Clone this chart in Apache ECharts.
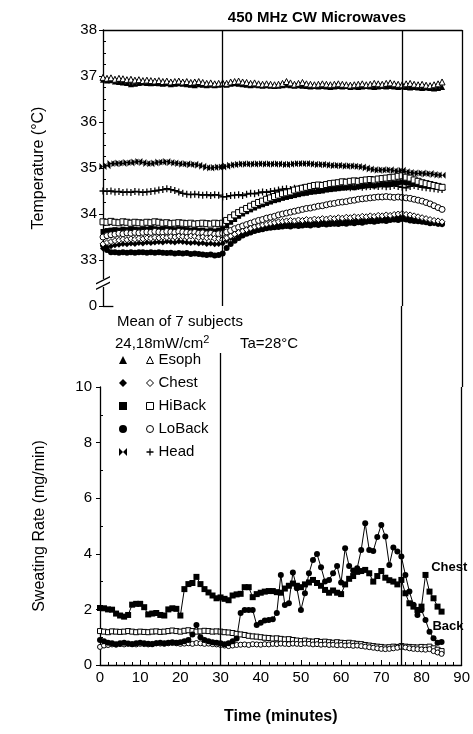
<!DOCTYPE html>
<html>
<head>
<meta charset="utf-8">
<script src="https://cdn.jsdelivr.net/npm/echarts@6/dist/echarts.min.js"></script>
<style>
  html, body { margin: 0; padding: 0; background: #fff; }
  #chart { width: 473px; height: 734px; }
</style>
</head>
<body>
<div id="chart"></div>
<script>
// Sampling times (minutes)
const minutes = [
  0, 1, 2, 3, 4, 5, 6, 7, 8, 9,
  10, 11, 12, 13, 14, 15, 16, 17, 18, 19,
  20, 21, 22, 23, 24, 25, 26, 27, 28, 29,
  30, 31, 32, 33, 34, 35, 36, 37, 38, 39,
  40, 41, 42, 43, 44, 45, 46, 47, 48, 49,
  50, 51, 52, 53, 54, 55, 56, 57, 58, 59,
  60, 61, 62, 63, 64, 65, 66, 67, 68, 69,
  70, 71, 72, 73, 74, 75, 76, 77, 78, 79,
  80, 81, 82, 83, 84, 85
];

// Temperatures (°C), filled = 24 mW/cm2, open = 18 mW/cm2
const esophOpen = [
  36.97, 36.95, 36.96, 36.93, 36.95, 36.94, 36.92, 36.93, 36.91, 36.92,
  36.90, 36.91, 36.90, 36.89, 36.90, 36.88, 36.89, 36.87, 36.88, 36.89,
  36.87, 36.88, 36.86, 36.87, 36.88, 36.86, 36.84, 36.85, 36.83, 36.84,
  36.85, 36.84, 36.87, 36.88, 36.89, 36.87, 36.86, 36.84, 36.85, 36.83,
  36.82, 36.83, 36.82, 36.81, 36.82, 36.84, 36.88, 36.85, 36.82, 36.84,
  36.86, 36.83, 36.82, 36.81, 36.82, 36.83, 36.82, 36.81, 36.82, 36.83,
  36.82, 36.81, 36.80, 36.81, 36.82, 36.83, 36.81, 36.82, 36.84, 36.83,
  36.82, 36.84, 36.85, 36.83, 36.82, 36.81, 36.83, 36.84, 36.82, 36.81,
  36.82, 36.80, 36.79, 36.81, 36.83, 36.87
];
const esophFilled = [
  36.92, 36.90, 36.91, 36.88, 36.87, 36.86, 36.85, 36.82, 36.83, 36.85,
  36.86, 36.85, 36.84, 36.85, 36.84, 36.83, 36.84, 36.82, 36.83, 36.84,
  36.83, 36.82, 36.81, 36.80, 36.82, 36.81, 36.80, 36.81, 36.80, 36.81,
  36.82, 36.81, 36.83, 36.84, 36.83, 36.82, 36.81, 36.80, 36.81, 36.80,
  36.79, 36.80, 36.79, 36.78, 36.79, 36.80, 36.81, 36.80, 36.79, 36.80,
  36.79, 36.78, 36.77, 36.78, 36.77, 36.78, 36.77, 36.76, 36.77, 36.78,
  36.77, 36.78, 36.76, 36.77, 36.76, 36.77, 36.78, 36.77, 36.76, 36.77,
  36.78, 36.77, 36.78, 36.77, 36.76, 36.77, 36.76, 36.75, 36.76, 36.75,
  36.74, 36.75, 36.74, 36.73, 36.74, 36.76
];
const headFilled = [
  35.03, 35.05, 35.10, 35.09, 35.11, 35.10, 35.12, 35.11, 35.13, 35.14,
  35.12, 35.10, 35.09, 35.11, 35.13, 35.12, 35.14, 35.12, 35.11, 35.10,
  35.08, 35.09, 35.07, 35.08, 35.06, 35.04, 35.01, 35.00, 35.01, 35.02,
  35.02, 35.04, 35.06, 35.07, 35.08, 35.09, 35.08, 35.09, 35.08, 35.09,
  35.09, 35.08, 35.09, 35.08, 35.09, 35.08, 35.07, 35.08, 35.09, 35.10,
  35.09, 35.10, 35.09, 35.08, 35.07, 35.08, 35.07, 35.06, 35.05, 35.06,
  35.05, 35.04, 35.05, 35.04, 35.03, 35.02, 35.00, 34.98, 34.96, 34.95,
  34.96, 34.95, 34.96, 34.94, 34.93, 34.95, 34.92, 34.90, 34.89, 34.88,
  34.89, 34.87, 34.88, 34.86, 34.85, 34.84
];
const headOpen = [
  34.50, 34.49, 34.50, 34.48, 34.49, 34.47, 34.48, 34.47, 34.49, 34.48,
  34.47, 34.48, 34.49, 34.50, 34.52, 34.53, 34.55, 34.53, 34.51, 34.48,
  34.45, 34.43, 34.42, 34.43, 34.42, 34.41, 34.42, 34.40, 34.42, 34.41,
  34.37, 34.38, 34.40, 34.41, 34.42, 34.40, 34.43, 34.45, 34.44, 34.46,
  34.48, 34.47, 34.49, 34.50, 34.52, 34.54, 34.55, 34.53, 34.56, 34.55,
  34.57, 34.56, 34.58, 34.57, 34.58, 34.60, 34.59, 34.58, 34.60, 34.59,
  34.60, 34.58, 34.57, 34.59, 34.60, 34.58, 34.59, 34.60, 34.61, 34.60,
  34.61, 34.59, 34.60, 34.62, 34.60, 34.58, 34.57, 34.60, 34.62, 34.60,
  34.58, 34.57, 34.56, 34.55, 34.54, 34.53
];
const hiBackOpen = [
  33.83, 33.82, 33.84, 33.82, 33.81, 33.83, 33.82, 33.80, 33.82, 33.81,
  33.80, 33.82, 33.81, 33.83, 33.82, 33.80, 33.81, 33.79, 33.80, 33.81,
  33.80, 33.79, 33.80, 33.78, 33.79, 33.80, 33.79, 33.78, 33.80, 33.79,
  33.80, 33.86, 33.92, 33.98, 34.03, 34.08, 34.12, 34.17, 34.21, 34.25,
  34.28, 34.32, 34.35, 34.38, 34.41, 34.44, 34.46, 34.48, 34.52, 34.54,
  34.56, 34.58, 34.60, 34.62, 34.63, 34.62, 34.64, 34.66, 34.67, 34.68,
  34.70, 34.69, 34.71, 34.72, 34.71, 34.73, 34.74, 34.75, 34.74, 34.76,
  34.77, 34.78, 34.79, 34.80, 34.82, 34.83, 34.80, 34.78, 34.74, 34.71,
  34.68, 34.66, 34.64, 34.62, 34.60, 34.58
];
const hiBackFilled = [
  33.62, 33.64, 33.65, 33.66, 33.65, 33.67, 33.66, 33.68, 33.67, 33.66,
  33.68, 33.67, 33.69, 33.68, 33.67, 33.69, 33.68, 33.67, 33.66, 33.68,
  33.67, 33.66, 33.65, 33.66, 33.64, 33.65, 33.63, 33.64, 33.63, 33.65,
  33.68, 33.75, 33.82, 33.88, 33.95, 34.00, 34.05, 34.09, 34.13, 34.17,
  34.20, 34.23, 34.26, 34.29, 34.31, 34.34, 34.36, 34.38, 34.40, 34.42,
  34.44, 34.45, 34.47, 34.48, 34.49, 34.50, 34.52, 34.53, 34.54, 34.55,
  34.56, 34.57, 34.58, 34.57, 34.59, 34.60, 34.61, 34.62, 34.61, 34.63,
  34.64, 34.65, 34.66, 34.67, 34.68, 34.69, 34.68, 34.67, 34.66, 34.64,
  34.63, 34.62, 34.61, 34.60, 34.59, 34.58
];
const loBackOpen = [
  33.50, 33.53, 33.55, 33.56, 33.58, 33.57, 33.59, 33.58, 33.60, 33.59,
  33.60, 33.61, 33.60, 33.62, 33.61, 33.60, 33.62, 33.61, 33.60, 33.62,
  33.61, 33.60, 33.59, 33.60, 33.58, 33.59, 33.57, 33.58, 33.56, 33.57,
  33.58, 33.61, 33.64, 33.68, 33.71, 33.74, 33.77, 33.80, 33.83, 33.86,
  33.88, 33.91, 33.93, 33.95, 33.98, 34.00, 34.02, 34.04, 34.06, 34.08,
  34.10, 34.12, 34.13, 34.15, 34.17, 34.18, 34.20, 34.22, 34.23, 34.25,
  34.26, 34.27, 34.29, 34.30, 34.32, 34.33, 34.34, 34.35, 34.36, 34.37,
  34.37, 34.38, 34.37, 34.36, 34.37, 34.36, 34.35, 34.34, 34.32, 34.30,
  34.28, 34.25, 34.22, 34.18, 34.14, 34.10
];
const chestOpen = [
  33.35, 33.38, 33.40, 33.42, 33.43, 33.45, 33.44, 33.46, 33.45, 33.47,
  33.46, 33.48, 33.47, 33.49, 33.48, 33.50, 33.49, 33.51, 33.50, 33.52,
  33.51, 33.50, 33.52, 33.51, 33.49, 33.50, 33.48, 33.49, 33.47, 33.46,
  33.45, 33.48, 33.52, 33.56, 33.60, 33.63, 33.66, 33.69, 33.72, 33.74,
  33.76, 33.78, 33.80, 33.81, 33.83, 33.84, 33.85, 33.86, 33.85, 33.87,
  33.86, 33.88, 33.87, 33.89, 33.88, 33.90, 33.89, 33.91, 33.90, 33.92,
  33.91, 33.93, 33.92, 33.94, 33.93, 33.95, 33.94, 33.96, 33.95, 33.97,
  33.96, 33.98, 33.97, 33.99, 34.00, 34.01, 33.99, 33.98, 33.96, 33.94,
  33.92, 33.90, 33.88, 33.86, 33.85, 33.83
];
const chestFilled = [
  33.25, 33.28, 33.30, 33.32, 33.33, 33.35, 33.34, 33.36, 33.35, 33.37,
  33.36, 33.38, 33.37, 33.38, 33.39, 33.38, 33.40, 33.39, 33.38, 33.40,
  33.39, 33.38, 33.37, 33.38, 33.36, 33.37, 33.35, 33.36, 33.34, 33.35,
  33.36, 33.42, 33.48, 33.53, 33.58, 33.62, 33.65, 33.68, 33.70, 33.72,
  33.73, 33.74, 33.75, 33.76, 33.77, 33.76, 33.78, 33.77, 33.79, 33.78,
  33.80, 33.79, 33.81, 33.80, 33.82, 33.81, 33.83, 33.82, 33.84, 33.83,
  33.85, 33.84, 33.86, 33.85, 33.87, 33.86, 33.88, 33.87, 33.89, 33.90,
  33.91, 33.92, 33.93, 33.92, 33.94, 33.95, 33.93, 33.91, 33.89, 33.87,
  33.85, 33.83, 33.81, 33.80, 33.78, 33.77
];
const loBackFilled = [
  33.32, 33.22, 33.17, 33.17, 33.16, 33.17, 33.16, 33.17, 33.16, 33.17,
  33.17, 33.16, 33.17, 33.16, 33.17, 33.16, 33.15, 33.16, 33.14, 33.15,
  33.14, 33.15, 33.13, 33.14, 33.13, 33.12, 33.11, 33.12, 33.10, 33.11,
  33.14, 33.26, 33.35, 33.42, 33.48, 33.53, 33.57, 33.60, 33.63, 33.65,
  33.67, 33.69, 33.70, 33.71, 33.72, 33.73, 33.74, 33.73, 33.75, 33.74,
  33.75, 33.76, 33.75, 33.77, 33.76, 33.78, 33.77, 33.78, 33.79, 33.78,
  33.80, 33.79, 33.81, 33.80, 33.82, 33.81, 33.83, 33.84, 33.83, 33.85,
  33.86, 33.85, 33.87, 33.88, 33.87, 33.89, 33.88, 33.86, 33.85, 33.84,
  33.83, 33.82, 33.80, 33.81, 33.79, 33.78
];

// Sweating rate (mg/min)
const sweatChestFilled = [
  2.05, 2.04, 2.00, 1.99, 1.85, 1.78, 1.74, 1.80, 2.17, 2.20,
  2.20, 2.08, 1.82, 1.85, 1.87, 1.80, 1.78, 2.00, 2.04, 2.02,
  1.78, 2.73, 2.91, 2.95, 3.17, 2.91, 2.73, 2.61, 2.50, 2.40,
  2.43, 2.38, 2.33, 2.50, 2.54, 2.56, 2.80, 2.80, 2.44, 2.55,
  2.60, 2.64, 2.66, 2.66, 2.62, 2.60, 2.75, 2.85, 2.93, 2.85,
  2.80, 2.90, 2.97, 3.06, 2.95, 2.85, 2.70, 2.60, 2.68, 2.60,
  2.55, 2.90, 3.10, 3.20, 3.35, 3.38, 3.42, 3.30, 3.00, 3.20,
  3.38, 3.14, 3.05, 3.00, 2.90, 3.06, 2.58, 2.22, 2.10, 1.98,
  2.10, 3.24, 2.64, 2.40, 2.10, 1.92
];
const sweatBackFilled = [
  0.90, 0.85, 0.80, 0.78, 0.75, 0.78, 0.80, 0.77, 0.75, 0.78,
  0.80, 0.78, 0.76, 0.75, 0.78, 0.80, 0.78, 0.80, 0.82, 0.80,
  0.82, 0.85, 0.90, 1.10, 1.44, 1.00, 0.90, 0.85, 0.82, 0.80,
  0.78, 0.75, 0.78, 0.85, 0.95, 1.87, 1.98, 1.98, 1.98, 1.44,
  1.52, 1.60, 1.62, 1.65, 1.87, 3.24, 2.16, 2.22, 3.33, 2.76,
  1.98, 2.58, 3.30, 3.78, 3.99, 3.52, 3.00, 3.06, 3.30, 3.56,
  2.97, 4.20, 3.56, 3.40, 3.48, 4.14, 5.10, 4.14, 4.10, 4.60,
  5.04, 4.62, 3.60, 4.23, 4.08, 3.90, 3.24, 2.64, 2.17, 1.80,
  1.98, 1.62, 1.20, 0.96, 0.80, 0.83
];
const sweatSquareOpen = [
  1.22, 1.20, 1.18, 1.21, 1.20, 1.19, 1.20, 1.22, 1.20, 1.18,
  1.20, 1.19, 1.18, 1.20, 1.21, 1.19, 1.20, 1.22, 1.24, 1.22,
  1.20, 1.23, 1.25, 1.22, 1.20, 1.21, 1.23, 1.22, 1.20, 1.21,
  1.20, 1.18, 1.17, 1.15, 1.12, 1.10, 1.08, 1.05, 1.03, 1.02,
  1.00, 0.98, 0.97, 0.95, 0.96, 0.94, 0.92, 0.93, 0.90, 0.88,
  0.86, 0.88, 0.85, 0.84, 0.86, 0.83, 0.84, 0.82, 0.80, 0.82,
  0.80, 0.79, 0.80, 0.78, 0.76, 0.75, 0.72, 0.70, 0.68, 0.66,
  0.65, 0.63, 0.64, 0.66, 0.65, 0.68, 0.66, 0.65, 0.64, 0.63,
  0.65, 0.64, 0.66, 0.60, 0.55, 0.50
];
const sweatCircleOpen = [
  0.65, 0.70, 0.72, 0.74, 0.73, 0.75, 0.74, 0.76, 0.75, 0.74,
  0.76, 0.75, 0.74, 0.76, 0.78, 0.77, 0.76, 0.78, 0.79, 0.78,
  0.76, 0.77, 0.78, 0.76, 0.79, 0.78, 0.76, 0.77, 0.75, 0.74,
  0.72, 0.70, 0.68, 0.70, 0.72, 0.73, 0.74, 0.72, 0.75, 0.74,
  0.73, 0.75, 0.74, 0.76, 0.75, 0.77, 0.76, 0.75, 0.77, 0.76,
  0.75, 0.77, 0.76, 0.74, 0.75, 0.73, 0.74, 0.72, 0.73, 0.71,
  0.72, 0.70, 0.71, 0.69, 0.70, 0.68, 0.66, 0.64, 0.62, 0.60,
  0.58, 0.57, 0.58, 0.60, 0.62, 0.65, 0.63, 0.60, 0.58, 0.57,
  0.56, 0.55, 0.57, 0.50, 0.45, 0.40
];

// Axis tick labels
const tempTickLabels = ['0', '33', '34', '35', '36', '37', '38'];
const timeTickLabels = ['0', '10', '20', '30', '40', '50', '60', '70', '80', '90'];
const sweatTickLabels = ['0', '2', '4', '6', '8', '10'];
// Exposure on / off markers (minutes)
const phaseTimes = [30, 75];

const FONT = '"Liberation Sans", Arial, Helvetica, sans-serif';
const INK = '#000';

const SYM = {
  tri: 'triangle',
  dia: 'diamond',
  sq: 'rect',
  circ: 'circle',
  bowtie: 'path://M0,0L5,5L0,10Z M10,0L10,10L5,5Z',
  plus: 'path://M4.1,0H5.9V10H4.1Z M0,4.1H10V5.9H0Z',
  slashes: 'path://M0,7L14,0L14,1.6L0,8.6Z M0,12.4L14,5.4L14,7L0,14Z'
};

const pairs = vals => minutes.map((t, i) => [t, vals[i]]);

function dataSeries(name, vals, symbol, size, style, grid) {
  const itemStyle = style === 'open'
    ? { color: '#fff', borderColor: INK, borderWidth: 1 }
    : { color: INK, borderWidth: 0 };
  return {
    name, type: 'line',
    xAxisIndex: grid === 0 ? 0 : 1,
    yAxisIndex: grid === 0 ? 0 : 2,
    data: pairs(vals),
    symbol, symbolSize: size, showSymbol: true, showAllSymbol: true,
    lineStyle: { color: INK, width: 1 },
    itemStyle,
    silent: true, animation: false, clip: false
  };
}

const lineMark = vals => ({
  silent: true, symbol: ['none', 'none'], animation: false,
  label: { show: false },
  lineStyle: { color: INK, width: 1.3, type: 'solid' },
  emphasis: { disabled: true },
  data: vals.map(v => ({ xAxis: v }))
});

const series = [
  // temperature panel (filled first, open drawn above)
  dataSeries('Esoph 24', esophFilled, SYM.tri, 6, 'filled', 0),
  dataSeries('Head 24', headFilled, SYM.bowtie, 7, 'filled', 0),
  dataSeries('HiBack 24', hiBackFilled, SYM.sq, 5, 'filled', 0),
  dataSeries('LoBack 24', loBackFilled, SYM.circ, 6, 'filled', 0),
  dataSeries('Chest 24', chestFilled, SYM.dia, 6, 'filled', 0),
  dataSeries('Esoph 18', esophOpen, SYM.tri, 6, 'open', 0),
  dataSeries('Head 18', headOpen, SYM.plus, 7, 'plus', 0),
  dataSeries('HiBack 18', hiBackOpen, SYM.sq, 6, 'open', 0),
  dataSeries('LoBack 18', loBackOpen, SYM.circ, 6, 'open', 0),
  dataSeries('Chest 18', chestOpen, SYM.dia, 6, 'open', 0),
  // sweating panel
  dataSeries('Sweat sq open', sweatSquareOpen, SYM.sq, 5, 'open', 1),
  dataSeries('Sweat circ open', sweatCircleOpen, SYM.circ, 5, 'open', 1),
  dataSeries('Sweat back', sweatBackFilled, SYM.circ, 6, 'filled', 1),
  dataSeries('Sweat chest', sweatChestFilled, SYM.sq, 6, 'filled', 1)
];

// frame / phase lines for each panel
series[0].markLine = lineMark([...phaseTimes, 90]);
series[0].markLine.data.push([{ coord: [0, 32] }, { coord: [2.6, 32] }]);
// axis break mark between 0 and 33 on the temperature axis
series[0].markPoint = {
  silent: true, animation: false, label: { show: false },
  data: [
    { coord: [0, 32.5], symbol: 'rect', symbolSize: [6, 8], itemStyle: { color: '#fff' } },
    { coord: [0, 32.5], symbol: SYM.slashes, symbolSize: [14, 14], itemStyle: { color: INK } }
  ]
};
series[10].markLine = lineMark([...phaseTimes, 90]);
// curve labels on the sweating panel
const curveLabel = { show: true, formatter: '{b}', color: INK, fontFamily: FONT, fontWeight: 'bold', fontSize: 13 };
series[13].markPoint = {
  silent: true, symbol: 'circle', symbolSize: 0, animation: false,
  label: curveLabel,
  data: [{ name: 'Chest', coord: [86.9, 3.5] }]
};
series[12].markPoint = {
  silent: true, symbol: 'circle', symbolSize: 0, animation: false,
  label: curveLabel,
  data: [{ name: 'Back', coord: [86.6, 1.38] }]
};
// connectors crossing the space between panels
series.push({
  type: 'line', xAxisIndex: 2, yAxisIndex: 4, data: [], silent: true,
  markLine: lineMark([75, 90])
});
series.push({
  type: 'line', xAxisIndex: 3, yAxisIndex: 5, data: [], silent: true,
  markLine: lineMark([...phaseTimes, 90])
});

const labelStyle = { color: INK, fontFamily: FONT, fontSize: 15 };
const hiddenX = grid => ({ type: 'value', gridIndex: grid, min: 0, max: 90, show: false });
const hiddenY = grid => ({ type: 'value', gridIndex: grid, min: 0, max: 1, show: false });

const minorTempTicks = [];
for (let v = 33; v < 38; v += 0.25) if (v % 1 !== 0) minorTempTicks.push(v);
const minorSweatTicks = [1, 3, 5, 7, 9];

const legendRows = ['Esoph', 'Chest', 'HiBack', 'LoBack', 'Head'];
const filledIcons = [SYM.tri, SYM.dia, SYM.sq, SYM.circ, SYM.bowtie];
const openIcons = [SYM.tri, SYM.dia, SYM.sq, SYM.circ, SYM.plus];

const option = {
  backgroundColor: '#fff',
  animation: false,
  title: {
    text: '450 MHz CW Microwaves',
    left: 312, top: 5, textAlign: 'center',
    textStyle: { color: INK, fontFamily: FONT, fontSize: 15, fontWeight: 'bold' }
  },
  grid: [
    { left: 103, right: 11, top: 30, height: 276 },
    { left: 100, right: 11, top: 387, height: 278 },
    { left: 100, right: 11, top: 306, height: 47 },
    { left: 100, right: 11, top: 353, height: 34 }
  ],
  xAxis: [
    {
      type: 'value', gridIndex: 0, min: 0, max: 90, position: 'top',
      axisLine: { show: true, onZero: false, lineStyle: { color: INK, width: 1.3 } },
      axisTick: { show: false }, axisLabel: { show: false }, splitLine: { show: false }
    },
    {
      type: 'value', gridIndex: 1, min: 0, max: 90, interval: 10,
      name: 'Time (minutes)', nameLocation: 'middle', nameGap: 44,
      nameTextStyle: { color: INK, fontFamily: FONT, fontSize: 16, fontWeight: 'bold' },
      axisLine: { show: true, onZero: false, lineStyle: { color: INK, width: 1.3 } },
      axisTick: { show: true, inside: true, length: 5, lineStyle: { color: INK } },
      minorTick: { show: true, splitNumber: 5, length: 3, lineStyle: { color: INK } },
      axisLabel: { ...labelStyle, margin: 5, formatter: v => timeTickLabels[v / 10] },
      splitLine: { show: false }
    },
    hiddenX(2),
    hiddenX(3)
  ],
  yAxis: [
    {
      type: 'value', gridIndex: 0, min: 32, max: 38, interval: 1,
      name: 'Temperature (°C)', nameLocation: 'middle', nameGap: 56, nameRotate: 90,
      nameTextStyle: { color: INK, fontFamily: FONT, fontSize: 16 },
      axisLine: { show: true, lineStyle: { color: INK, width: 1.3 } },
      axisTick: { show: true, length: 4, lineStyle: { color: INK } },
      axisLabel: { ...labelStyle, margin: 6, formatter: v => tempTickLabels[v - 32] },
      splitLine: { show: false }
    },
    {
      type: 'value', gridIndex: 0, min: 32, max: 38, position: 'left',
      axisLine: { show: false },
      axisTick: { show: true, inside: true, length: 3, customValues: minorTempTicks, lineStyle: { color: INK } },
      axisLabel: { show: false }, splitLine: { show: false }
    },
    {
      type: 'value', gridIndex: 1, min: 0, max: 10, interval: 2,
      name: 'Sweating Rate (mg/min)', nameLocation: 'middle', nameGap: 52, nameRotate: 90,
      nameTextStyle: { color: INK, fontFamily: FONT, fontSize: 16 },
      axisLine: { show: true, lineStyle: { color: INK, width: 1.3 } },
      axisTick: { show: true, length: 4, lineStyle: { color: INK } },
      axisLabel: { ...labelStyle, margin: 8, formatter: v => sweatTickLabels[v / 2] },
      splitLine: { show: false }
    },
    {
      type: 'value', gridIndex: 1, min: 0, max: 10, position: 'left',
      axisLine: { show: false },
      axisTick: { show: true, inside: true, length: 3, customValues: minorSweatTicks, lineStyle: { color: INK } },
      axisLabel: { show: false }, splitLine: { show: false }
    },
    hiddenY(2),
    hiddenY(3)
  ],
  legend: [
    {
      orient: 'vertical', left: 119, top: 352, padding: 0,
      itemWidth: 8, itemHeight: 8, itemGap: 7, selectedMode: false,
      itemStyle: { borderWidth: 1 },
      textStyle: { ...labelStyle, lineHeight: 16 },
      formatter: () => ' ',
      data: legendRows.map((r, i) => ({ name: r + ' 24', icon: filledIcons[i] }))
    },
    {
      orient: 'vertical', left: 146, top: 352, padding: 0,
      itemWidth: 7, itemHeight: 7, itemGap: 7, selectedMode: false,
      itemStyle: { borderWidth: 1 },
      textStyle: { ...labelStyle, lineHeight: 16 },
      formatter: n => n.split(' ')[0],
      data: legendRows.map((r, i) => ({ name: r + ' 18', icon: openIcons[i] }))
    }
  ],
  graphic: [
    {
      type: 'text', left: 117, top: 314, silent: true,
      style: { text: 'Mean of 7 subjects', fill: INK, font: '15px ' + FONT }
    },
    {
      type: 'text', left: 115, top: 334, silent: true,
      style: {
        text: '{a|24,18mW/cm}{s|2}',
        rich: {
          a: { fill: INK, fontFamily: FONT, fontSize: 15, verticalAlign: 'bottom' },
          s: { fill: INK, fontFamily: FONT, fontSize: 11, verticalAlign: 'top', padding: [0, 0, 6, 0] }
        }
      }
    },
    {
      type: 'text', left: 240, top: 336, silent: true,
      style: { text: 'Ta=28°C', fill: INK, font: '15px ' + FONT }
    }
  ],
  series
};

const chart = echarts.init(document.getElementById('chart'), null, { renderer: 'canvas' });
chart.setOption(option);
</script>
</body>
</html>
